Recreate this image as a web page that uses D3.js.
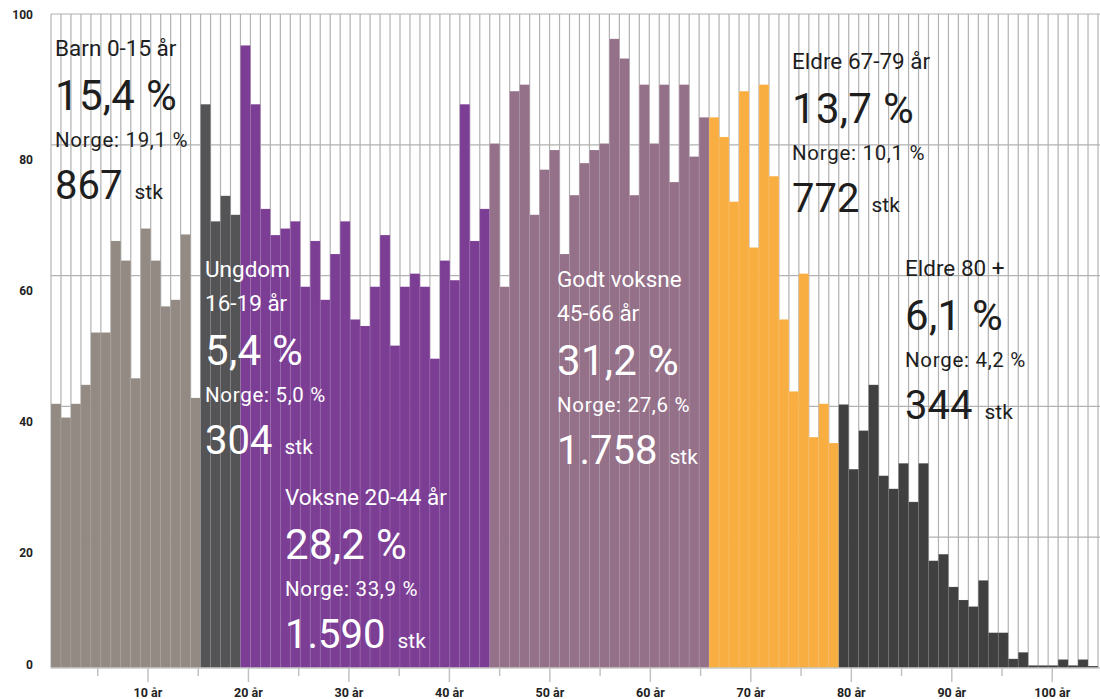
<!DOCTYPE html>
<html>
<head>
<meta charset="utf-8">
<script src="https://cdn.jsdelivr.net/npm/d3@7"></script>
<style>
  body { margin: 0; background: #fff; }
  svg { display: block; font-family: Roboto, "Liberation Sans", sans-serif; }
</style>
</head>
<body>
<svg width="1100" height="699"></svg>
<script>
"use strict";

// ages on the x axis (one bar per year)
const ages = d3.range(1, 106);

// values per age group
const barnValues = [40.4, 38.3, 40.4, 43.3, 51.3, 51.3, 65.3, 62.3, 44.3, 67.2, 62.3, 55.3, 56.3, 66.3, 41.3];
const ungdomValues = [86.2, 68.3, 72.2, 69.3];
const voksneValues = [95.2, 86.2, 70.2, 66.2, 67.2, 68.3, 58.3, 65.3, 56.3, 63.3, 68.3, 53.3, 52.3,
                      58.3, 66.2, 49.3, 58.3, 60.3, 58.3, 47.3, 62.3, 59.3, 86.2, 65.3, 70.2];
const godtVoksneValues = [80.2, 58.3, 88.2, 89.2, 69.3, 76.2, 79.2, 63.3, 72.3, 77.2, 79.2,
                          80.2, 96.2, 93.2, 72.3, 89.2, 80.2, 89.2, 74.3, 89.2, 78.2, 84.2];
const eldreValues = [84.2, 81.2, 71.3, 88.2, 64.3, 89.2, 75.2, 53.3, 42.3, 60.3, 35.3, 40.4, 34.4];
const eldre80Values = [40.3, 30.4, 36.3, 43.3, 29.4, 27.4, 31.3, 25.4, 31.3, 16.4, 17.4, 12.4, 10.4,
                       9.4, 13.4, 5.4, 5.4, 1.4, 2.4, 0.4, 0.4, 0.4, 1.3, 0.4, 1.3, 0.3];

const groupValues = [barnValues, ungdomValues, voksneValues, godtVoksneValues, eldreValues, eldre80Values];
const groupColors = ["#928a83", "#545456", "#7c3d95", "#957089", "#f9ae41", "#404040"];
const groupTextColors = ["#1e1e1e", "#fff", "#fff", "#fff", "#1e1e1e", "#1e1e1e"];

// annotation texts
const groupTitles = [["Barn 0-15 år"], ["Ungdom", "16-19 år"], ["Voksne 20-44 år"],
                     ["Godt voksne", "45-66 år"], ["Eldre 67-79 år"], ["Eldre 80 +"]];
const groupPct = ["15,4 %", "5,4 %", "28,2 %", "31,2 %", "13,7 %", "6,1 %"];
const norgePct = ["Norge: 19,1 %", "Norge: 5,0 %", "Norge: 33,9 %", "Norge: 27,6 %", "Norge: 10,1 %", "Norge: 4,2 %"];
const groupCount = ["867", "304", "1.590", "1.758", "772", "344"];

const yTicks = [0, 20, 40, 60, 80, 100];
const xMajorTicks = [10, 20, 30, 40, 50, 60, 70, 80, 90, 100];
const xMinorTicks = [5, 15, 25, 35, 45, 55, 65, 75, 85, 95];

// flatten to one row per bar
let bars = [];
groupValues.forEach((vals, g) => {
    vals.forEach(v => bars.push({ value: v, group: g }));
});
bars.forEach((d, i) => d.age = ages[i]);

const plot = { left: 51, right: 1098, top: 14, bottom: 668 },
      lineColor = "#b2b2b2",
      // where each annotation block starts (x, first baseline)
      blockPos = [[55, 56], [205, 277], [285, 505], [557, 287], [792, 69], [905, 276]],
      titleGap = 34, pctGap = 54, norgeGap = 37, countGap = 52;

let chart = d3.select("svg");

let x = d3.scaleBand()
    .domain(ages)
    .range([plot.left, plot.right])
    .padding(0);

let y = d3.scaleLinear()
    .domain([0, 100])
    .range([plot.bottom, plot.top]);

// axis scale for the age ticks (labels sit a bit off the bar grid in the original)
let xTick = d3.scaleLinear()
    .domain([0, 105])
    .range([plot.left - 4, plot.right + 4]);

// grid: horizontal lines
chart.append("g")
    .attr("class", "grid_h")
    .selectAll("line")
    .data(yTicks.filter(d => d > 0))
    .enter()
    .append("line")
    .attr("x1", plot.left)
    .attr("x2", 1100)
    .attr("y1", d => y(d))
    .attr("y2", d => y(d))
    .attr("stroke", lineColor)
    .attr("stroke-width", 1.2);

// grid: vertical line at every bar edge
let edges = ages.map(a => x(a)).concat([plot.right]);
chart.append("g")
    .attr("class", "grid_v")
    .selectAll("line")
    .data(edges)
    .enter()
    .append("line")
    .attr("x1", d => d)
    .attr("x2", d => d)
    .attr("y1", y(100))
    .attr("y2", y(0))
    .attr("stroke", lineColor)
    .attr("stroke-width", 1.2);

// bars
chart.append("g")
    .attr("class", "bars")
    .selectAll("rect")
    .data(bars)
    .enter()
    .append("rect")
    .attr("x", d => x(d.age))
    .attr("y", d => y(d.value))
    .attr("width", x.bandwidth())
    .attr("height", d => y(0) - y(d.value))
    .attr("fill", d => groupColors[d.group])
    .attr("stroke", "rgba(255,255,255,0.13)")
    .attr("stroke-width", 0.8);

// y axis labels
let yAxis = chart.append("g")
    .attr("class", "y_axis")
    .attr("transform", `translate(${plot.left}, 0)`)
    .call(d3.axisLeft(y).tickValues(yTicks).tickSize(0).tickPadding(18));
yAxis.select(".domain").remove();
yAxis.selectAll("text")
    .attr("font-family", "Roboto, sans-serif")
    .attr("font-size", 12)
    .attr("font-weight", 700)
    .attr("fill", "#222")
    // labels sit below their grid line, except at both ends
    .attr("dy", d => d == 100 ? "0.35em" : d == 0 ? "0.02em" : "1.6em");

// x axis: baseline, ticks, labels
chart.append("line")
    .attr("x1", plot.left)
    .attr("x2", 1100)
    .attr("y1", y(0))
    .attr("y2", y(0))
    .attr("stroke", "#c9c9c9")
    .attr("stroke-width", 1.5);

let xMinor = chart.append("g")
    .attr("transform", `translate(0, ${y(0)})`)
    .call(d3.axisBottom(xTick).tickValues(xMinorTicks).tickSize(8).tickFormat(""));
xMinor.select(".domain").remove();

let xMajor = chart.append("g")
    .attr("class", "x_axis")
    .attr("transform", `translate(0, ${y(0)})`)
    .call(d3.axisBottom(xTick).tickValues(xMajorTicks).tickSize(14).tickPadding(6).tickFormat(d => d + " år"));
xMajor.select(".domain").remove();
chart.selectAll(".tick line")
    .attr("stroke", "#c2c2c2")
    .attr("stroke-width", 1.5);
xMajor.selectAll("text")
    .attr("font-family", "Roboto, sans-serif")
    .attr("font-size", 12.5)
    .attr("font-weight", 700)
    .attr("fill", "#222");

// annotation blocks
groupTitles.forEach((lines, i) => {
    let g = chart.append("g")
        .attr("class", "annotation")
        .attr("fill", groupTextColors[i]);
    let bx = blockPos[i][0], by = blockPos[i][1];

    lines.forEach((t, k) => {
        g.append("text")
            .attr("x", bx)
            .attr("y", by + k * titleGap)
            .attr("font-size", 22.5)
            .text(t);
    });
    let yPct = by + (lines.length - 1) * titleGap + pctGap;

    g.append("text")
        .attr("x", bx)
        .attr("y", yPct)
        .attr("font-size", 42)
        .attr("letter-spacing", 0.3)
        .text(groupPct[i]);

    g.append("text")
        .attr("x", bx)
        .attr("y", yPct + norgeGap)
        .attr("font-size", 20.5)
        .attr("letter-spacing", 0.7)
        .text(norgePct[i]);

    let c = g.append("text")
        .attr("x", bx)
        .attr("y", yPct + norgeGap + countGap)
        .attr("font-size", 40);
    c.append("tspan").text(groupCount[i]);
    c.append("tspan")
        .attr("dx", 12)
        .attr("font-size", 21)
        .text("stk");
});
</script>
</body>
</html>
